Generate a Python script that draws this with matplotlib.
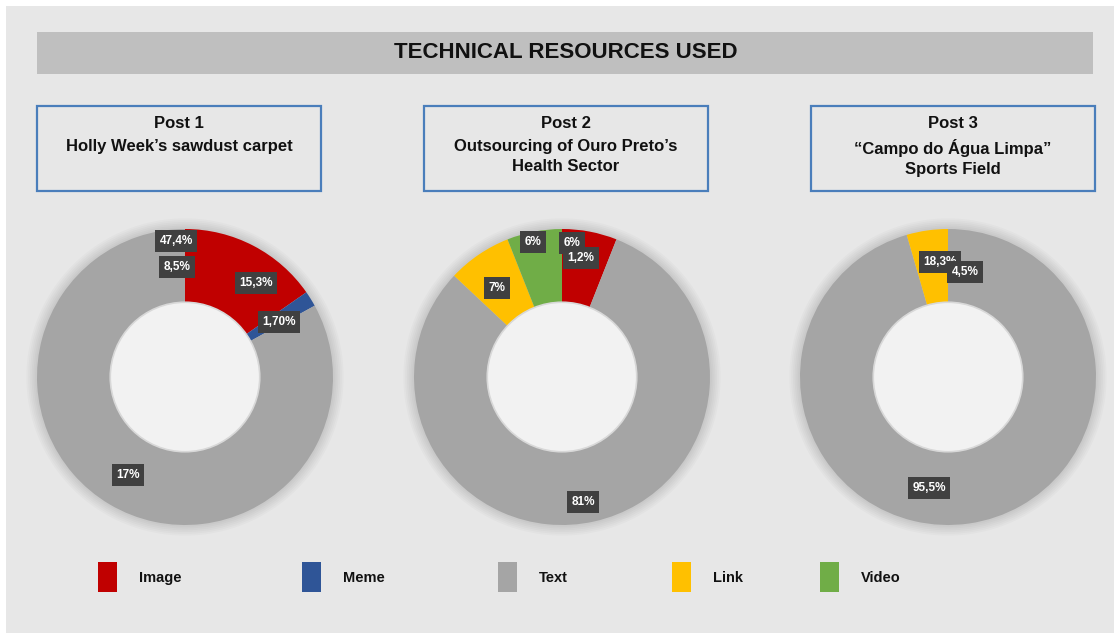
import matplotlib
matplotlib.use("Agg")
import matplotlib.pyplot as plt
from matplotlib.patches import Rectangle, Circle

plt.rcParams["font.family"] = ["Liberation Sans", "DejaVu Sans"]

W, H = 1114, 633

# data
categories = ["Image", "Meme", "Text", "Link", "Video"]
colors = ["#c00000", "#2f5597", "#a5a5a5", "#ffc000", "#70ad47"]
post1_values = [15.3, 1.7, 83.0, 0.0, 0.0]
post2_values = [6.0, 0.0, 81.0, 7.0, 6.0]
post3_values = [0.0, 0.0, 95.5, 4.5, 0.0]
post_titles = ["Post 1", "Post 2", "Post 3"]
post_subtitles = [
    "Holly Week\u2019s sawdust carpet",
    "Outsourcing of Ouro Preto\u2019s\nHealth Sector",
    "\u201cCampo do \u00c1gua Limpa\u201d\nSports Field",
]
# data labels as printed on the original (pixel positions)
post1_labels = [("47,4%", 176, 241), ("8,5%", 177, 267), ("15,3%", 256, 283),
                ("1,70%", 279, 322), ("17%", 128, 475)]
post2_labels = [("6%", 533, 242), ("7%", 497, 288), ("6%", 572, 243),
                ("1,2%", 581, 258), ("81%", 583, 502)]
post3_labels = [("18,3%", 940, 262), ("4,5%", 965, 272), ("95,5%", 929, 488)]

fig = plt.figure(figsize=(W / 100, H / 100), dpi=100)
fig.patch.set_facecolor("white")
bg = fig.add_axes([0, 0, 1, 1])
bg.set_xlim(0, W)
bg.set_ylim(H, 0)
bg.axis("off")

bg.add_patch(Rectangle((6, 6), W - 6, H - 6, facecolor="#e7e7e7", edgecolor="none"))
bg.add_patch(Rectangle((37, 32), 1056, 42, facecolor="#bfbfbf", edgecolor="none"))
bg.text(566, 53, "TECHNICAL RESOURCES USED", ha="center", va="center",
        fontsize=16, fontweight="bold", color="#111111")

box_x = [37, 424, 811]
for bx, t, s in zip(box_x, post_titles, post_subtitles):
    bg.add_patch(Rectangle((bx, 106), 284, 85, facecolor="#e7e7e7",
                           edgecolor="#4a7ebb", linewidth=1.6))
    bg.text(bx + 142, 124, t, ha="center", va="center", fontsize=12,
            fontweight="bold", color="#111111")
    bg.text(bx + 142, 139, s, ha="center", va="top", fontsize=12,
            fontweight="bold", color="#111111", linespacing=1.4)

centers = [185, 562, 948]
cy, R = 377, 148
pad = 1.1
all_values = [post1_values, post2_values, post3_values]
all_labels = [post1_labels, post2_labels, post3_labels]
for cx, vals in zip(centers, all_values):
    half = R * pad
    ax = fig.add_axes([(cx - half) / W, (H - cy - half) / H, 2 * half / W, 2 * half / H])
    ax.set_facecolor("none")
    # soft shadow
    for i in range(6):
        r = 1.0 + 0.012 * (i + 1)
        ax.add_patch(Circle((0, 0), r, facecolor="#000000", alpha=0.018,
                            edgecolor="none", zorder=0))
    ax.pie(vals, colors=colors, startangle=90, counterclock=False, radius=1.0,
           wedgeprops=dict(width=0.5, linewidth=0))
    ax.add_patch(Circle((0, 0), 0.505, facecolor="#f2f2f2", edgecolor="#d8d8d8",
                        linewidth=1.2, zorder=5))
    ax.set_xlim(-pad, pad)
    ax.set_ylim(-pad, pad)
    ax.set_aspect("equal")
    ax.axis("off")

top = fig.add_axes([0, 0, 1, 1])
top.set_xlim(0, W)
top.set_ylim(H, 0)
top.axis("off")
top.patch.set_alpha(0)
for labels in all_labels:
    for txt, x, y in labels:
        top.text(x, y, txt, ha="center", va="center", fontsize=8.5,
                 fontweight="bold", color="white",
                 bbox=dict(boxstyle="square,pad=0.4", facecolor="#404040",
                           edgecolor="none"))

legend_x = [98, 302, 498, 672, 820]
for x, c, name in zip(legend_x, colors, categories):
    top.add_patch(Rectangle((x, 562), 19, 30, facecolor=c, edgecolor="none"))
    top.text(x + 41, 578, name, ha="left", va="center", fontsize=10.5,
             fontweight="bold", color="#111111")

fig.savefig("out.png", dpi=100)
